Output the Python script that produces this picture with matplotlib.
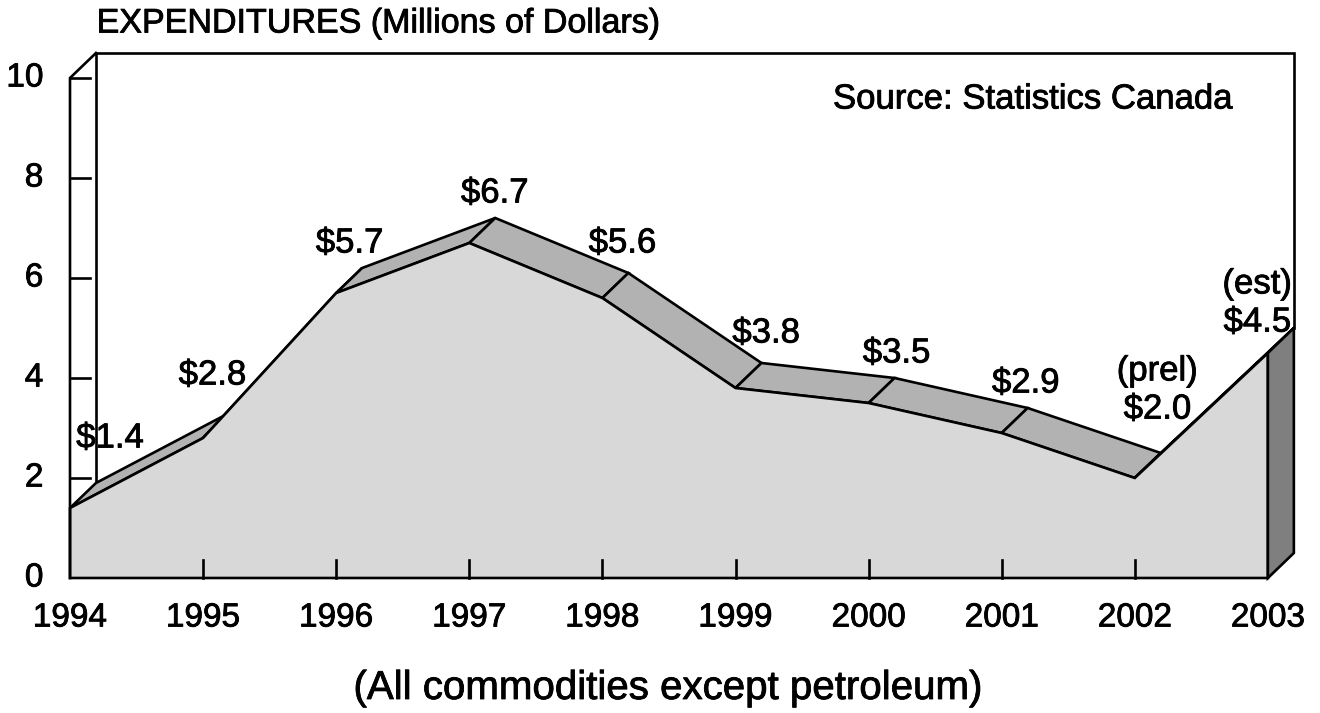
import matplotlib
matplotlib.use("Agg")
import matplotlib.pyplot as plt
from matplotlib.patches import Polygon
import matplotlib.patheffects as pe

plt.rcParams['font.family'] = ['Liberation Sans', 'DejaVu Sans']

# ---- data ----
years = [1994, 1995, 1996, 1997, 1998, 1999, 2000, 2001, 2002, 2003]
values = [1.4, 2.8, 5.7, 6.7, 5.6, 3.8, 3.5, 2.9, 2.0, 4.5]
value_labels = ["$1.4", "$2.8", "$5.7", "$6.7", "$5.6", "$3.8", "$3.5", "$2.9",
                "(prel)\n$2.0", "(est)\n$4.5"]
y_ticks = [0, 2, 4, 6, 8, 10]
title = "EXPENDITURES (Millions of Dollars)"
source = "Source: Statistics Canada"
footnote = "(All commodities except petroleum)"

# ---- layout / style ----
DX, DY = 0.195, 0.5          # depth offset (years, units)
LIGHT, MID, DARK = "#d8d8d8", "#b2b2b2", "#7f7f7f"
LW = 1.9
FS_TICK = 24
FS_VAL = 25
lab_dx = [0.30, 0.07, 0.10, 0.19, 0.15, 0.23, 0.21, 0.18, 0.17, -0.08]
lab_dy = [1.4, 1.26, 1.0, 1.0, 1.1, 1.1, 1.0, 1.0, 1.76, 1.0]
BOLDEN = [pe.withStroke(linewidth=0.6, foreground="black")]

fig = plt.figure(figsize=(13.2, 7.13), dpi=100)
ax = fig.add_axes([0, 0, 1, 1])
ax.set_xlim(1994 - 70 / 133.1, 1994 + 1250 / 133.1)
ax.set_ylim(-135 / 50, 578 / 50)
ax.axis("off")

x0, x1 = years[0], years[-1]
ymax = y_ticks[-1]

# back wall lines
ax.plot([x0 + DX, x0 + DX, x1 + DX, x1 + DX],
        [values[0] + DY, ymax + DY, ymax + DY, values[-1] + DY],
        color="black", lw=LW, zorder=1, solid_joinstyle="miter")

# ribbon top faces
for i in range(len(years) - 1):
    xa, xb = years[i], years[i + 1]
    ya, yb = values[i], values[i + 1]
    poly = Polygon([(xa, ya), (xb, yb), (xb + DX, yb + DY), (xa + DX, ya + DY)],
                   closed=True, facecolor=MID, edgecolor="black", lw=LW, zorder=2,
                   joinstyle="miter")
    ax.add_patch(poly)

# front area
front = [(x0, 0)] + list(zip(years, values)) + [(x1, 0)]
ax.add_patch(Polygon(front, closed=True, facecolor=LIGHT, edgecolor="black",
                     lw=LW, zorder=3, joinstyle="miter"))

# right side face
ax.add_patch(Polygon([(x1, 0), (x1, values[-1]), (x1 + DX, values[-1] + DY), (x1 + DX, DY)],
                     closed=True, facecolor=DARK, edgecolor="black", lw=LW, zorder=3,
                     joinstyle="miter"))

# front y axis + top diagonal
ax.plot([x0, x0, x0 + DX], [0, ymax, ymax + DY], color="black", lw=LW, zorder=4,
        solid_joinstyle="miter")
for t in y_ticks[1:]:
    ax.plot([x0, x0 + 0.15], [t, t], color="black", lw=LW, zorder=4)
for t in y_ticks:
    ax.text(x0 - 0.2, t, str(t), ha="right", va="center", fontsize=FS_TICK,
            path_effects=BOLDEN)

# x ticks
for yr in years[1:-1]:
    ax.plot([yr, yr], [0, 0.36], color="black", lw=LW, zorder=4)
for yr in years:
    ax.text(yr, -0.8, str(yr), ha="center", va="center", fontsize=FS_TICK,
            path_effects=BOLDEN)

# value labels
for yr, v, lab, ddx, ddy in zip(years, values, value_labels, lab_dx, lab_dy):
    ax.text(yr + ddx, v + ddy, lab, ha="center", va="center", fontsize=FS_VAL,
            zorder=6, linespacing=1.2, path_effects=BOLDEN)

ax.text(x0 + 0.2, 11.08, title, ha="left", va="center", fontsize=24.5,
        path_effects=BOLDEN)
ax.text(1994 + 763 / 133.1, 9.58, source, ha="left", va="center", fontsize=25,
        path_effects=BOLDEN)
ax.text(1994 + 598 / 133.1, -2.2, footnote, ha="center", va="center", fontsize=29,
        path_effects=BOLDEN)

fig.savefig("out.png", dpi=100)
